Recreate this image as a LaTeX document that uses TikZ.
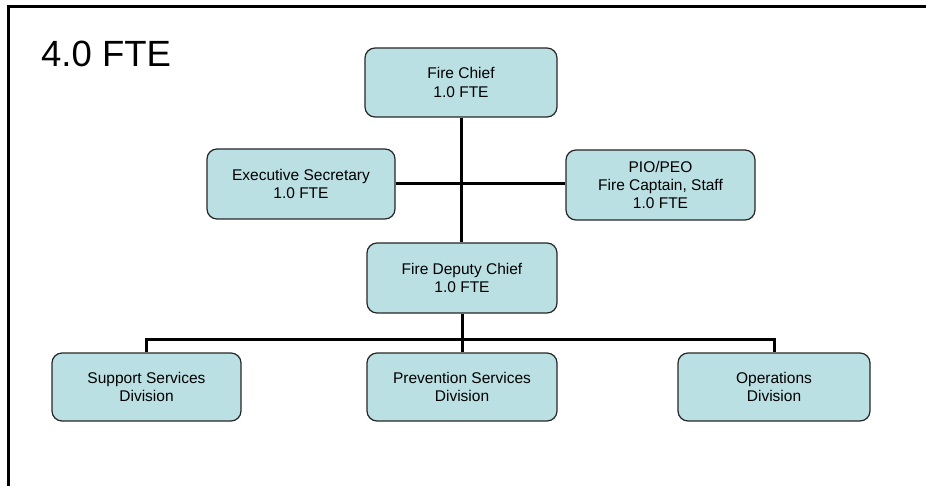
\documentclass[tikz,border=0pt]{standalone}
\usepackage{fontspec}
\setmainfont{Liberation Sans}
\definecolor{boxfill}{HTML}{BBE0E3}
\definecolor{boxline}{HTML}{262626}
\begin{document}
\begin{tikzpicture}[x=1pt,y=-1pt,
  orgbox/.style={draw=boxline, line width=1.2pt, fill=boxfill, rounded corners=10pt,
    minimum width=#1, minimum height=69pt, inner sep=0pt, align=center,
    font=\fontsize{15.5}{18.3}\selectfont},
  orgbox/.default=190pt,
  link/.style={line width=3pt, black},
  frameline/.style={line width=2.6pt, black}]
\useasboundingbox (0,0) rectangle (926,486);

% frame edges
\coordinate (fTL) at (8.5,6.5);
\coordinate (fTR) at (926,6.5);
\coordinate (fBL) at (8.5,486);
\draw[frameline] (fTR) -- (fTL) -- (fBL);

% title
\node[anchor=base west, inner sep=0pt, font=\fontsize{36.5}{42}\selectfont] (title) at (41,67) {4.0 FTE};

% boxes
\node[orgbox=192pt] (chief) at (461,82.5) {Fire Chief\\1.0 FTE};
\node[orgbox=188pt, minimum height=70pt] (sec) at (301,184) {Executive Secretary\\1.0 FTE};
\node[orgbox=189pt, minimum height=70pt] (pio) at (660.5,185) {PIO/PEO\\Fire Captain, Staff\\1.0 FTE};
\node[orgbox=190pt, minimum height=70pt] (deputy) at (462,278) {Fire Deputy Chief\\1.0 FTE};
\node[orgbox=189pt, minimum height=68pt] (support) at (146.5,387) {Support Services\\Division};
\node[orgbox=190pt, minimum height=68pt] (prevent) at (462,387) {Prevention Services\\Division};
\node[orgbox=192pt, minimum height=68pt] (ops) at (774,387) {Operations\\Division};

% connectors
\draw[link] (chief.south) -- (chief.south |- deputy.north);
\draw[link] (sec.east) -- (sec.east -| pio.west);
\draw[link] (deputy.south) -- (deputy.south |- prevent.north);
\draw[link] (support.north) -- ++(0,-13) -| (ops.north);
\end{tikzpicture}
\end{document}
